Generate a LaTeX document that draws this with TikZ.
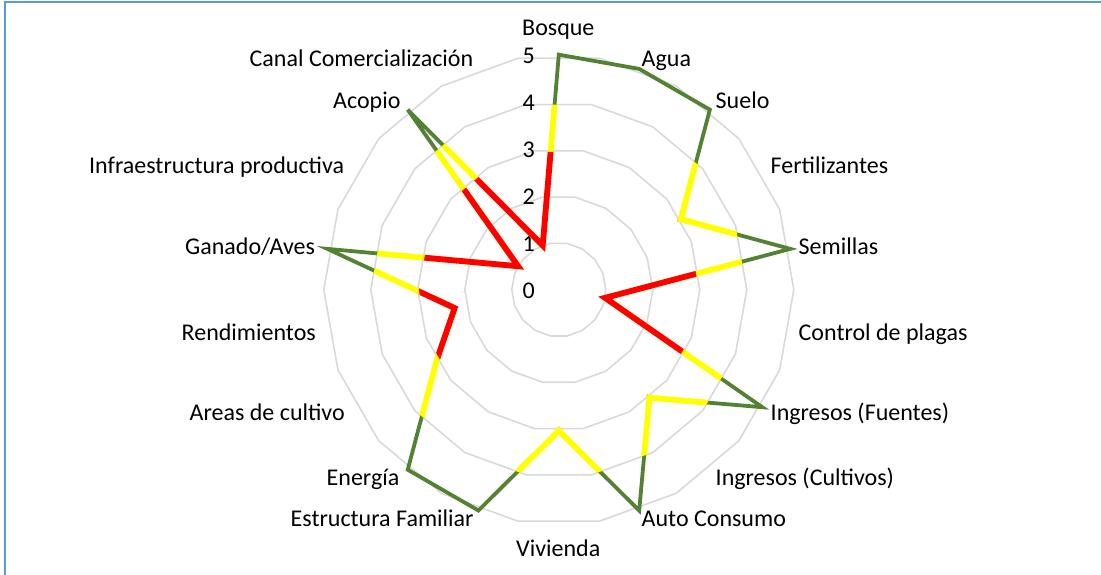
\documentclass[tikz,border=0pt]{standalone}
\usepackage{fontspec}
\setmainfont{Carlito}
\definecolor{gridgray}{RGB}{217,217,217}
\definecolor{sergreen}{RGB}{84,130,53}
\definecolor{seryellow}{RGB}{255,255,0}
\definecolor{serred}{RGB}{255,0,0}
\definecolor{framecol}{RGB}{91,155,213}
\def\RCx{558.8}
\def\RCy{289.7}
\def\RU{47}
\begin{document}
\begin{tikzpicture}[x=1pt,y=-1pt,
  lbl/.style={inner sep=0pt, font=\fontsize{24}{28}\selectfont, anchor=base west},
  num/.style={inner sep=0pt, font=\fontsize{24}{28}\selectfont, anchor=east},
  ring/.style={draw=gridgray, line width=1.6pt},
  grn/.style={draw=sergreen, line width=3.8pt},
  yel/.style={draw=seryellow, line width=5.8pt},
  rd/.style={draw=serred, line width=5.8pt}]
\useasboundingbox (0,0) rectangle (1101,575);
% frame
\draw[framecol, line width=2pt] (5.3,575) -- (5.3,2.5) -- (1101,2.5);
% rings
\foreach \k in {1,...,5}{
  \draw[ring] plot[samples at={0,20,...,340}] ({\RCx+\k*\RU*cos(\x)},{\RCy-\k*\RU*sin(\x)}) -- cycle;
}
% axis numbers
\foreach \k in {0,...,5}{
  \node[num] (n\k) at (535,{\RCy-\k*\RU+1}) {\k};
}
% data points
\foreach \v [count=\i from 0] in {5,5,5,3,5,1,5,3,5,3,5,5,3,2.25,5,1,5,1}{
  \coordinate (p\i) at ({\RCx+\v*\RU*cos(90-20*\i)},{\RCy-\v*\RU*sin(90-20*\i)});
}
% green (full)
\draw[grn] (p0) \foreach \i in {1,...,17}{ -- (p\i)} -- cycle;
% yellow (inside ring 4)
\begin{scope}
  \clip plot[samples at={0,20,...,340}] ({\RCx+4*\RU*cos(\x)},{\RCy-4*\RU*sin(\x)}) -- cycle;
  \draw[yel] (p0) \foreach \i in {1,...,17}{ -- (p\i)} -- cycle;
\end{scope}
% red (inside ring 3)
\begin{scope}
  \clip plot[samples at={0,20,...,340}] ({\RCx+(3*\RU-1)*cos(\x)},{\RCy-(3*\RU-1)*sin(\x)}) -- cycle;
  \draw[rd] (p0) \foreach \i in {1,...,17}{ -- (p\i)} -- cycle;
\end{scope}
% yellow tips at vertices lying on ring 3
\begin{scope}
  \clip (p3) circle (10);
  \draw[yel] (p2) -- (p3) -- (p4);
\end{scope}
\begin{scope}
  \clip (p7) circle (10);
  \draw[yel] (p6) -- (p7) -- (p8);
\end{scope}
\begin{scope}
  \clip (p9) circle (10);
  \draw[yel] (p8) -- (p9) -- (p10);
\end{scope}
% labels
\node[lbl] (l0)  at (522,36)    {Bosque};
\node[lbl] (l1)  at (641.5,66.7) {Agua};
\node[lbl] (l2)  at (715.5,109)  {Suelo};
\node[lbl] (l3)  at (770.5,174)  {Fertilizantes};
\node[lbl] (l4)  at (798.5,254)  {Semillas};
\node[lbl] (l5)  at (798.5,340)  {Control de plagas};
\node[lbl] (l6)  at (770.5,420)  {Ingresos (Fuentes)};
\node[lbl] (l7)  at (715.5,485)  {Ingresos (Cultivos)};
\node[lbl] (l8)  at (641.5,526.7) {Auto Consumo};
\node[lbl] (l9)  at (516,556.7)  {Vivienda};
\node[lbl] (l10) at (290.5,526.7) {Estructura Familiar};
\node[lbl] (l11) at (326.5,485)  {Energía};
\node[lbl] (l12) at (189.5,420)  {Areas de cultivo};
\node[lbl] (l13) at (181.5,340)  {Rendimientos};
\node[lbl] (l14) at (185,254)    {Ganado/Aves};
\node[lbl] (l15) at (89,174)     {Infraestructura productiva};
\node[lbl] (l16) at (333,108.3)  {Acopio};
\node[lbl] (l17) at (249.5,66.7) {Canal Comercialización};
\end{tikzpicture}
\end{document}
